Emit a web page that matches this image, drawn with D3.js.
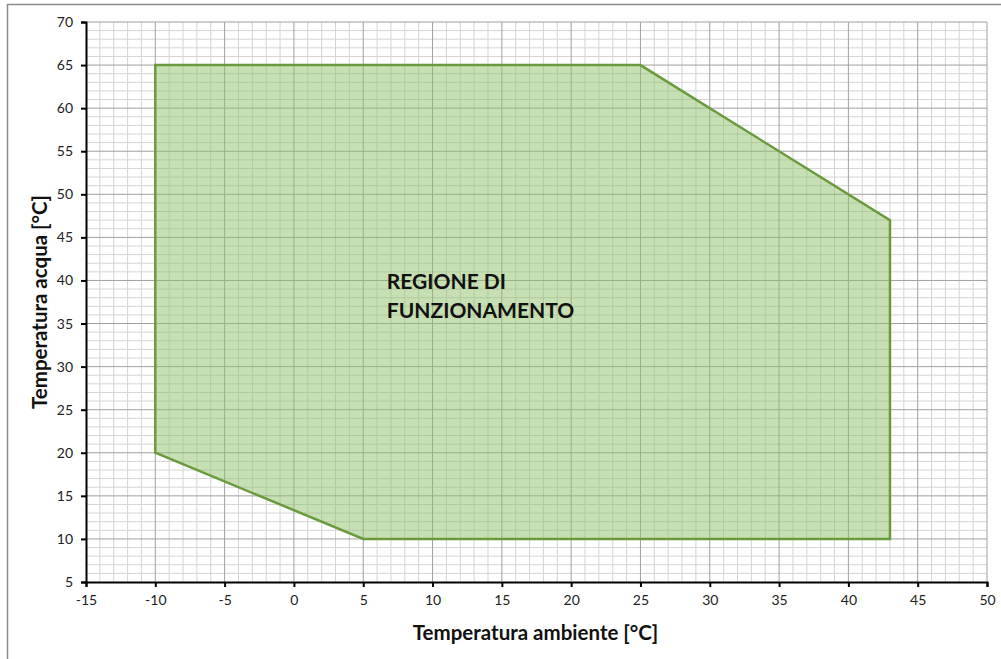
<!DOCTYPE html>
<html>
<head>
<meta charset="utf-8">
<script src="https://cdn.jsdelivr.net/npm/d3@7"></script>
<style>
  body { margin: 0; background: #fff; }
  svg { display: block; font-family: Lato, "Open Sans", sans-serif; }
</style>
</head>
<body>
<svg id="chart" width="1001" height="659"></svg>
<script>
// operating envelope (ambient temp, water temp)
const envelopeX = [-10, -10, 25, 43, 43, 5];
const envelopeY = [20, 65, 65, 47, 10, 10];
const xTicks = [-15, -10, -5, 0, 5, 10, 15, 20, 25, 30, 35, 40, 45, 50];
const yTicks = [5, 10, 15, 20, 25, 30, 35, 40, 45, 50, 55, 60, 65, 70];
const regionLabel = ["REGIONE DI", "FUNZIONAMENTO"];

const svg = d3.select("#chart");
const margin = {top: 22, left: 86, right: 14, bottom: 77};
const width = 1001, height = 659;

// outer frame (cut off right / bottom like the original)
svg.append("rect")
  .attr("x", 7.5).attr("y", 4.5)
  .attr("width", 1100).attr("height", 700)
  .attr("fill", "none").attr("stroke", "#8c8c8c").attr("stroke-width", 1.5);

const x = d3.scaleLinear().domain([-15, 50]).range([margin.left, width - margin.right]);
const y = d3.scaleLinear().domain([5, 70]).range([height - margin.bottom, margin.top]);

const g = svg.append("g");

// minor grid every 1
const minorX = d3.range(-15, 51, 1).filter(v => v % 5 != 0);
const minorY = d3.range(5, 71, 1).filter(v => v % 5 != 0);
g.selectAll(".mx").data(minorX).enter().append("line")
  .attr("x1", d => x(d)).attr("x2", d => x(d))
  .attr("y1", y(5)).attr("y2", y(70))
  .attr("stroke", "#d4d4d4").attr("stroke-width", 1);
g.selectAll(".my").data(minorY).enter().append("line")
  .attr("y1", d => y(d)).attr("y2", d => y(d))
  .attr("x1", x(-15)).attr("x2", x(50))
  .attr("stroke", "#d4d4d4").attr("stroke-width", 1);
// major grid every 5
g.selectAll(".Mx").data(xTicks.slice(1)).enter().append("line")
  .attr("x1", d => x(d)).attr("x2", d => x(d))
  .attr("y1", y(5)).attr("y2", y(70))
  .attr("stroke", "#a0a0a0").attr("stroke-width", 1);
g.selectAll(".My").data(yTicks.slice(1)).enter().append("line")
  .attr("y1", d => y(d)).attr("y2", d => y(d))
  .attr("x1", x(-15)).attr("x2", x(50))
  .attr("stroke", "#a0a0a0").attr("stroke-width", 1);

// envelope polygon
const pts = envelopeX.map((v, i) => [x(v), y(envelopeY[i])]);
svg.append("path")
  .attr("d", d3.line()(pts) + "Z")
  .attr("fill", "#8fc168").attr("fill-opacity", 0.5)
  .attr("stroke", "#6a9a3c").attr("stroke-width", 2.5)
  .attr("stroke-linejoin", "miter");

// label
svg.append("text")
  .attr("x", x(6.7)).attr("y", y(39))
  .attr("font-size", 21).attr("font-weight", "bold").attr("fill", "#111")
  .selectAll("tspan").data(regionLabel).enter().append("tspan")
  .attr("x", x(6.7)).attr("dy", (d, i) => i == 0 ? 0 : 29)
  .text(d => d);

// axes
const xAxis = d3.axisBottom(x).tickValues(xTicks).tickSize(5).tickFormat(d => String(d));
const yAxis = d3.axisLeft(y).tickValues(yTicks).tickSize(5).tickFormat(d => String(d));

const gx = svg.append("g").attr("transform", `translate(0,${y(5)})`).call(xAxis);
const gy = svg.append("g").attr("transform", `translate(${x(-15)},0)`).call(yAxis);
[gx, gy].forEach(a => {
  a.select(".domain").attr("stroke", "#000").attr("stroke-width", 2);
  a.selectAll(".tick line").attr("stroke", "#000").attr("stroke-width", 2);
  a.selectAll(".tick text").attr("font-size", 14).attr("fill", "#222")
    .attr("font-family", "Lato, 'Open Sans', sans-serif");
});
gx.selectAll(".tick text").attr("dy", "1.05em");
gy.selectAll(".tick text").attr("dx", "-0.35em");

// axis titles
svg.append("text")
  .attr("x", (x(-15) + x(50)) / 2 - 1).attr("y", 640)
  .attr("text-anchor", "middle").attr("font-size", 20.5).attr("font-weight", "bold")
  .attr("fill", "#111")
  .text("Temperatura ambiente [°C]");
svg.append("text")
  .attr("transform", `translate(47,${(y(5) + y(70)) / 2}) rotate(-90)`)
  .attr("text-anchor", "middle").attr("font-size", 20.5).attr("font-weight", "bold")
  .attr("fill", "#111")
  .text("Temperatura acqua [°C]");
</script>
</body>
</html>
